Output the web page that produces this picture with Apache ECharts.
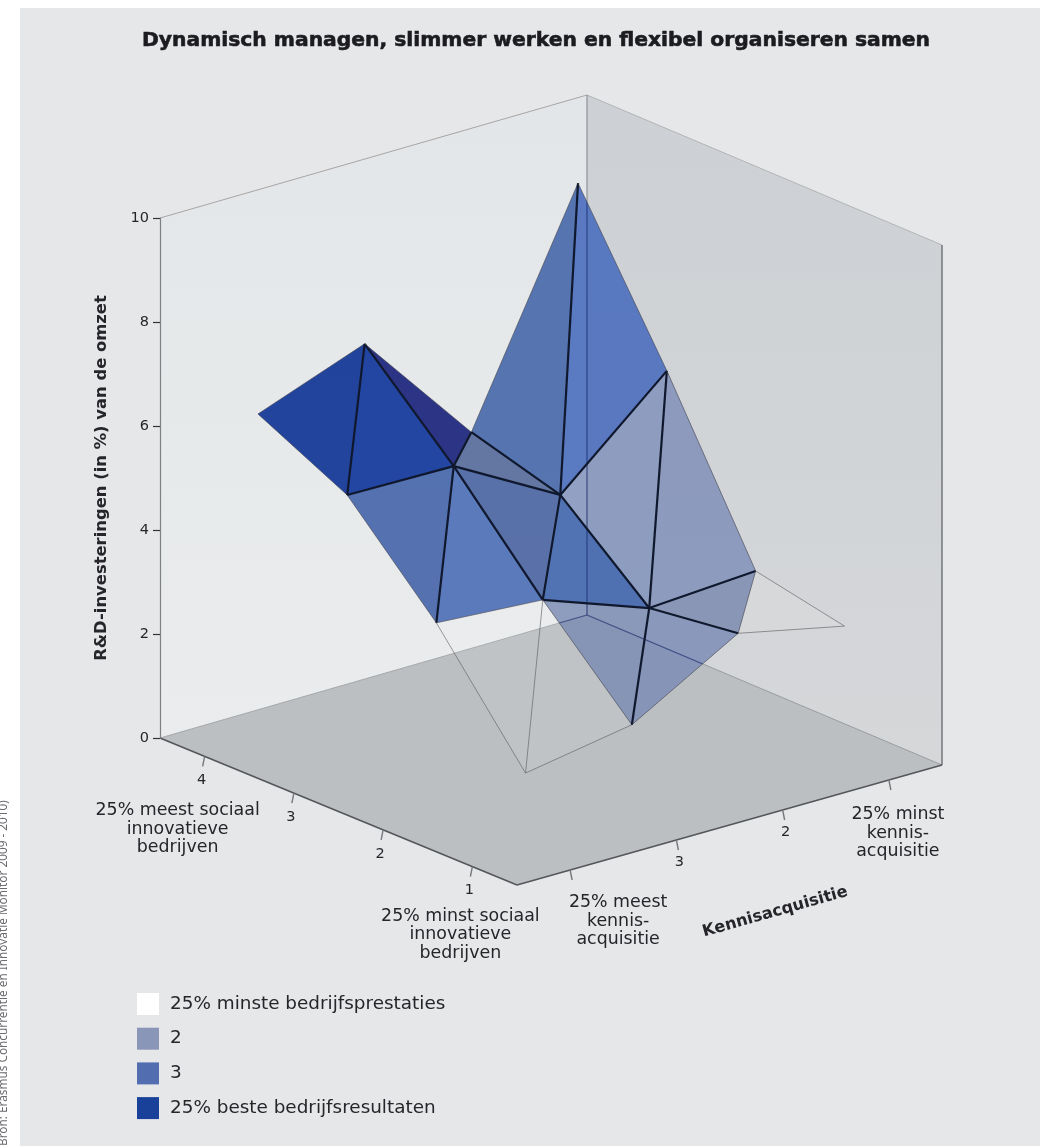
<!DOCTYPE html>
<html><head><meta charset="utf-8">
<style>html,body{margin:0;padding:0;background:#fff}#c{width:1040px;height:1146px}</style>
<script src="https://cdn.jsdelivr.net/npm/echarts@6/dist/echarts.min.js"></script>
</head><body><div id="c"></div>
<script>
// ---- data ----
const titleText = 'Dynamisch managen, slimmer werken en flexibel organiseren samen';
const zAxisName = 'R&D-investeringen (in %) van de omzet';
const kennisName = 'Kennisacquisitie';
const sourceText = 'Bron: Erasmus Concurrentie en Innovatie Monitor 2009 - 2010)';
// rows: sociale innovatie 4..1, columns: kennisacquisitie 4..1
const sociaalLevels = [4, 3, 2, 1];
const kennisLevels = [4, 3, 2, 1];
const rdRow4 = [6.29, 7.05, 4.76, 8.96];
const rdRow3 = [5.44, 5.41, 4.27, 6.07];
const rdRow2 = [3.69, 3.55, 2.81, 2.94];
const rdRow1 = [1.51, 1.86, 3.04, 2.60];
const heights = [rdRow4, rdRow3, rdRow2, rdRow1];
// performance class of each mesh triangle (upper, lower) per cell
const classUpper = [[4, 4, 3], [3, 3, 2], [1, 2, 2]];
const classLower = [[4, 3, 3], [3, 3, 2], [1, 2, 1]];
const legendNames = ['25% minste bedrijfsprestaties', '2', '3', '25% beste bedrijfsresultaten'];
const sociaalTickLabels = ['4', '3', '2', '1'];
const kennisTickLabels = ['', '3', '2', ''];
const sociaalEndLabels = ['25% meest sociaal\ninnovatieve\nbedrijven', '25% minst sociaal\ninnovatieve\nbedrijven'];
const kennisEndLabels = ['25% meest\nkennis-\nacquisitie', '25% minst\nkennis-\nacquisitie'];

// ---- projection from (sociaal, kennis, value) to the flat axes ----
const PX0 = 160, PY0 = 738, UNIT = 52;
function project(s, k, z) {
  const u = (s - 0.5) / 4, v = (4.5 - k) / 4;
  const sx = 517 - (s - 0.5) * 89.25 + (4.5 - k) * 106.25 + 2 * u * v;
  const sy = 885 - (s - 0.5) * 36.75 - (4.5 - k) * 30 - 3 * u * v;
  return [sx - PX0, (PY0 - sy) / UNIT + z];
}
const swatch = {1: '#ffffff', 2: '#8a96b8', 3: '#526eb0', 4: '#1a4199'};
// per-face shading, as the reference's 3D lighting
const faceFill = {
  '0,0,0': 'rgba(26,60,152,.96)', '0,0,1': 'rgba(26,62,158,.96)',
  '0,1,0': 'rgba(36,44,128,.96)', '0,1,1': 'rgba(88,108,155,.92)',
  '0,2,0': 'rgba(74,106,170,.92)', '0,2,1': 'rgba(78,112,190,.92)',
  '1,0,0': 'rgba(72,102,170,.92)', '1,0,1': 'rgba(78,112,182,.92)',
  '1,1,0': 'rgba(76,102,162,.92)', '1,1,1': 'rgba(68,104,174,.92)',
  '1,2,0': 'rgba(126,144,186,.82)', '1,2,1': 'rgba(126,142,184,.82)',
  '2,1,0': 'rgba(122,138,178,.82)', '2,1,1': 'rgba(122,138,182,.82)',
  '2,2,0': 'rgba(122,136,174,.82)'
};
function vertex(r, c) {
  return project(sociaalLevels[r], kennisLevels[c], heights[r][c]);
}
function triVerts(r, c, t) {
  return t === 0 ? [[r, c], [r, c + 1], [r + 1, c]] : [[r, c + 1], [r + 1, c + 1], [r + 1, c]];
}
const trianglesByClass = {1: [], 2: [], 3: [], 4: []};
const edgeMap = {};
classUpper.forEach((row, r) => row.forEach((cu, c) => {
  [cu, classLower[r][c]].forEach((cl, t) => {
    trianglesByClass[cl].push([r, c, t]);
    const vs = triVerts(r, c, t);
    [[0, 1], [1, 2], [2, 0]].forEach(([a, b]) => {
      const key = [vs[a].join(), vs[b].join()].sort().join('|');
      const e = edgeMap[key] || (edgeMap[key] = {a: vs[a], b: vs[b], colored: 0});
      if (cl > 1) e.colored++;
    });
  });
}));
const edgeList = Object.values(edgeMap).map(e => [e.a[0], e.a[1], e.b[0], e.b[1], e.colored]);

const S0 = 0.5, S1 = 4.5, K0 = 4.5, K1 = 0.5, ZTOP = 10;
function seg(api, a, b, stroke, lineWidth) {
  const p = api.coord(project(a[0], a[1], a[2])), q = api.coord(project(b[0], b[1], b[2]));
  return {type: 'line', shape: {x1: p[0], y1: p[1], x2: q[0], y2: q[1]}, style: {stroke, lineWidth}};
}
function poly(api, corners, style) {
  return {type: 'polygon', shape: {points: corners.map(p => api.coord(project(p[0], p[1], p[2])))}, style};
}
function faceSeries(cl) {
  return {
    type: 'custom', name: legendNames[cl - 1], coordinateSystem: 'cartesian2d', z: 3, silent: true,
    itemStyle: {color: swatch[cl]},
    data: trianglesByClass[cl],
    renderItem(params, api) {
      const r = api.value(0), c = api.value(1), t = api.value(2);
      const pts = triVerts(r, c, t).map(([a, b]) => api.coord(vertex(a, b)));
      const fill = cl === 1 ? 'rgba(255,255,255,.07)' : faceFill[[r, c, t].join()];
      const face = {type: 'polygon', shape: {points: pts}, style: {fill: fill, stroke: null}};
      if (cl === 1) return face;
      const seen = 'rgba(22,42,104,.62)';
      return {type: 'group', children: [face, {
        type: 'group',
        clipPath: {type: 'polygon', shape: {points: pts}},
        children: [
          seg(api, [S1, K1, ZTOP], [S1, K1, 0], seen, 1.2),
          seg(api, [S1, K0, 0], [S1, K1, 0], seen, 1.1),
          seg(api, [S1, K1, 0], [S0, K1, 0], seen, 1.1)
        ]
      }]};
    }
  };
}
const textColor = '#26262a';
const labelFont = '"DejaVu Sans",sans-serif';
function roomChildren(api) {
  return [
    poly(api, [[S1, K0, 0], [S1, K0, ZTOP], [S1, K1, ZTOP], [S1, K1, 0]], {fill: {type: 'linear', x: 0, y: 0, x2: 0, y2: 1, colorStops: [{offset: 0, color: '#e3e6e8'}, {offset: 1, color: '#eaeced'}]}}),
    poly(api, [[S1, K1, 0], [S1, K1, ZTOP], [S0, K1, ZTOP], [S0, K1, 0]], {fill: {type: 'linear', x: 0, y: 0, x2: 0, y2: 1, colorStops: [{offset: 0, color: '#cdd0d4'}, {offset: 1, color: '#d5d7d9'}]}}),
    poly(api, [[S1, K0, 0], [S0, K0, 0], [S0, K1, 0], [S1, K1, 0]], {fill: '#bbbfc2'}),
    seg(api, [S1, K0, ZTOP], [S1, K1, ZTOP], '#a8a5a5', 1),
    seg(api, [S1, K1, ZTOP], [S0, K1, ZTOP], '#b4b4b6', 1),
    seg(api, [S1, K1, ZTOP], [S1, K1, 0], '#8f9296', 1.2),
    seg(api, [S1, K0, 0], [S1, K1, 0], '#a6a8aa', 1),
    seg(api, [S1, K1, 0], [S0, K1, 0], '#9a9c9f', 1),
    seg(api, [S0, K1, ZTOP], [S0, K1, 0], '#6c6e72', 1.4),
    seg(api, [S1, K0, 0], [S0, K0, 0], '#55565a', 1.6),
    seg(api, [S0, K0, 0], [S0, K1, 0], '#55565a', 1.6)
  ];
}
function axisChildren(api) {
  const out = [];
  const txt = (p, text, extra) => ({type: 'text', x: p[0], y: p[1], style: Object.assign({text, fill: textColor, font: '14.5px ' + labelFont, align: 'center', verticalAlign: 'middle'}, extra || {})});
  sociaalLevels.forEach((s, i) => {
    const p = api.coord(project(s, K0, 0));
    out.push({type: 'line', shape: {x1: p[0], y1: p[1], x2: p[0] - 2, y2: p[1] + 10}, style: {stroke: '#77787c', lineWidth: 1.4}});
    out.push(txt([p[0] - 3, p[1] + 24], sociaalTickLabels[i]));
  });
  kennisLevels.forEach((k, i) => {
    const p = api.coord(project(S0, k, 0));
    out.push({type: 'line', shape: {x1: p[0], y1: p[1], x2: p[0] + 2, y2: p[1] + 10}, style: {stroke: '#77787c', lineWidth: 1.4}});
    if (kennisTickLabels[i]) out.push(txt([p[0] + 3, p[1] + 22], kennisTickLabels[i]));
  });
  const endFont = {font: '17.4px ' + labelFont, lineHeight: 18.5};
  const a = api.coord(project(4, K0, 0)), b = api.coord(project(1, K0, 0));
  out.push(txt([a[0] - 27, a[1] + 73], sociaalEndLabels[0], endFont));
  out.push(txt([b[0] - 12, b[1] + 68], sociaalEndLabels[1], endFont));
  const c = api.coord(project(S0, 4, 0)), d = api.coord(project(S0, 1, 0));
  out.push(txt([c[0] + 48, c[1] + 51], kennisEndLabels[0], endFont));
  out.push(txt([d[0] + 9, d[1] + 53], kennisEndLabels[1], endFont));
  out.push({type: 'text', x: c[0] + 205, y: c[1] + 42, rotation: 15.8 * Math.PI / 180, style: {text: kennisName, fill: textColor, font: 'bold 16.2px ' + labelFont, align: 'center', verticalAlign: 'middle'}});
  return out;
}
const option = {
  animation: false,
  backgroundColor: '#fff',
  title: {text: titleText, left: 531, top: 26, textAlign: 'center', textStyle: {fontFamily: '"DejaVu Sans"', fontWeight: 'bold', fontSize: 20.3, color: '#1c1c20', textBorderColor: '#1c1c20', textBorderWidth: 0.6}},
  legend: {
    orient: 'vertical', left: 137, top: 993, itemWidth: 22, itemHeight: 22, itemGap: 12.7, icon: 'rect',
    data: legendNames, selectedMode: false, padding: 0,
    itemStyle: {borderWidth: 0},
    textStyle: {fontFamily: labelFont, fontSize: 18.4, color: textColor, padding: [5, 0, 0, 6]}
  },
  grid: {left: PX0, top: 218, right: 98, bottom: 408, containLabel: false},
  xAxis: {type: 'value', min: 0, max: 782, show: false},
  yAxis: {
    type: 'value', min: 0, max: 10, interval: 2, z: 6,
    name: zAxisName, nameLocation: 'middle', nameGap: 50, nameRotate: 90,
    nameTextStyle: {fontFamily: labelFont, fontWeight: 'bold', fontSize: 16.4, color: textColor},
    axisLine: {show: true, lineStyle: {color: '#7f8084', width: 1.2}},
    axisTick: {show: true, length: 7, lineStyle: {color: '#333', width: 1.2}},
    axisLabel: {fontFamily: labelFont, fontSize: 14.5, color: textColor, margin: 11},
    splitLine: {show: false}
  },
  graphic: [
    {type: 'rect', z: -10, shape: {x: 20, y: 8, width: 1020, height: 1138}, style: {fill: '#e6e7e9'}},
    {type: 'text', z: 5, x: 4, y: 1146, rotation: Math.PI / 2, style: {text: sourceText, fill: '#6b6b70', font: '11.8px "Noto Sans",sans-serif', align: 'left', verticalAlign: 'middle'}}
  ],
  series: [
    {type: 'custom', name: 'kamer', coordinateSystem: 'cartesian2d', z: 1, silent: true, data: [[0, 0]],
      renderItem: (p, api) => ({type: 'group', children: roomChildren(api)})},
    faceSeries(1), faceSeries(2), faceSeries(3), faceSeries(4),
    {type: 'custom', name: 'rand', coordinateSystem: 'cartesian2d', z: 4, silent: true, data: edgeList,
      renderItem(p, api) {
        const a = api.coord(vertex(api.value(0), api.value(1))), b = api.coord(vertex(api.value(2), api.value(3)));
        const n = api.value(4);
        const stroke = n === 2 ? '#10182e' : n === 1 ? 'rgba(70,72,84,.65)' : 'rgba(90,90,94,.6)';
        return {type: 'line', shape: {x1: a[0], y1: a[1], x2: b[0], y2: b[1]}, style: {stroke, lineWidth: n === 2 ? 2.2 : 1}};
      }},
    {type: 'custom', name: 'assen', coordinateSystem: 'cartesian2d', z: 5, silent: true, data: [[0, 0]],
      renderItem: (p, api) => ({type: 'group', children: axisChildren(api)})}
  ]
};
echarts.init(document.getElementById('c'), null, {renderer: 'canvas'}).setOption(option);
</script></body></html>
